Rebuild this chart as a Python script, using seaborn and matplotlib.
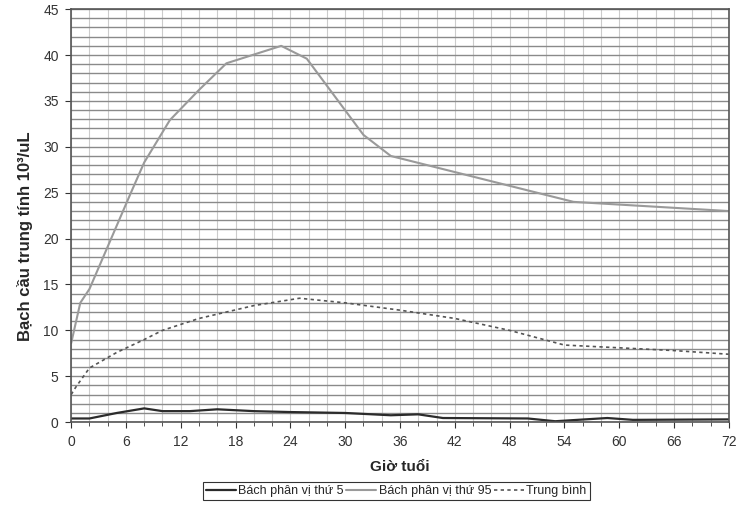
import numpy as np
import pandas as pd
import matplotlib.pyplot as plt
from matplotlib.ticker import MultipleLocator
import seaborn as sns

# values
hours_p5 = [0, 2, 5, 8, 10, 13, 16, 20, 24, 30, 35, 38, 40.7, 50, 53, 58.7, 61.5, 72]
p5 = [0.4, 0.4, 1.0, 1.5, 1.2, 1.2, 1.4, 1.2, 1.1, 1.0, 0.75, 0.85, 0.45, 0.4, 0.1, 0.45, 0.25, 0.3]

hours_p95 = [0, 1, 2, 6.5, 8, 10.8, 14, 17, 23, 25.8, 32, 35, 55, 72]
p95 = [8.6, 13, 14.5, 24.9, 28.3, 32.9, 36.2, 39.1, 41, 39.6, 31.3, 29, 24, 23]

hours_mean = [0, 0.5, 2, 5, 8, 10, 14, 20, 25, 30, 36, 42, 48, 54, 60, 66, 72]
mean = [3, 3.8, 5.9, 7.6, 9, 10, 11.3, 12.7, 13.5, 13, 12.2, 11.3, 10, 8.4, 8.1, 7.8, 7.4]

labels = ["Bách phân vị thứ 5", "Bách phân vị thứ 95", "Trung bình"]

sns.set_style("white")
plt.rcParams['font.family'] = ['Liberation Sans', 'DejaVu Sans']

fig, ax = plt.subplots(figsize=(7.49, 5.08), dpi=100)
fig.subplots_adjust(left=0.095, right=0.973, top=0.982, bottom=0.169)

# grid
ax.xaxis.set_minor_locator(MultipleLocator(2))
ax.xaxis.set_major_locator(MultipleLocator(6))
ax.yaxis.set_major_locator(MultipleLocator(5))
ax.yaxis.set_minor_locator(MultipleLocator(1))
ax.grid(which='both', axis='y', color='#8a8a8a', lw=1.0)
ax.grid(which='both', axis='x', color='#cccccc', lw=0.8)
ax.set_axisbelow(True)

sns.lineplot(x=hours_p5, y=p5, ax=ax, color='#2b2b2b', lw=1.6, label=labels[0])
sns.lineplot(x=hours_p95, y=p95, ax=ax, color='#9a9a9a', lw=1.5, label=labels[1])
sns.lineplot(x=hours_mean, y=mean, ax=ax, color='#555555', lw=1.2,
             linestyle=(0, (2, 2)), label=labels[2])

ax.set_xlim(0, 72)
ax.set_ylim(0, 45)
ax.tick_params(axis='both', which='major', labelsize=10, colors='#333333',
               length=4, direction='out', left=True, bottom=True, pad=5)
ax.tick_params(axis='both', which='minor', length=3, direction='out',
               left=False, bottom=True, color='#333333')
for s in ax.spines.values():
    s.set_color('#555555')
    s.set_linewidth(1.2)

ax.set_xlabel("Giờ tuổi", fontsize=11, fontweight='bold', labelpad=8)
ax.set_ylabel("Bạch cầu trung tính 10³/uL", fontsize=12, fontweight='bold')
ax.yaxis.set_label_coords(-0.058, 0.45)

ax.get_legend().remove()
h, l = ax.get_legend_handles_labels()
leg = fig.legend(h, l, loc='center', bbox_to_anchor=(396 / 749, 0.033), ncol=3,
                 fontsize=9, frameon=True, fancybox=False, edgecolor='black',
                 borderpad=0.25, columnspacing=0.2, handlelength=2.4,
                 handletextpad=0.2)
leg.get_frame().set_linewidth(0.8)

fig.savefig("out.png", dpi=100)
